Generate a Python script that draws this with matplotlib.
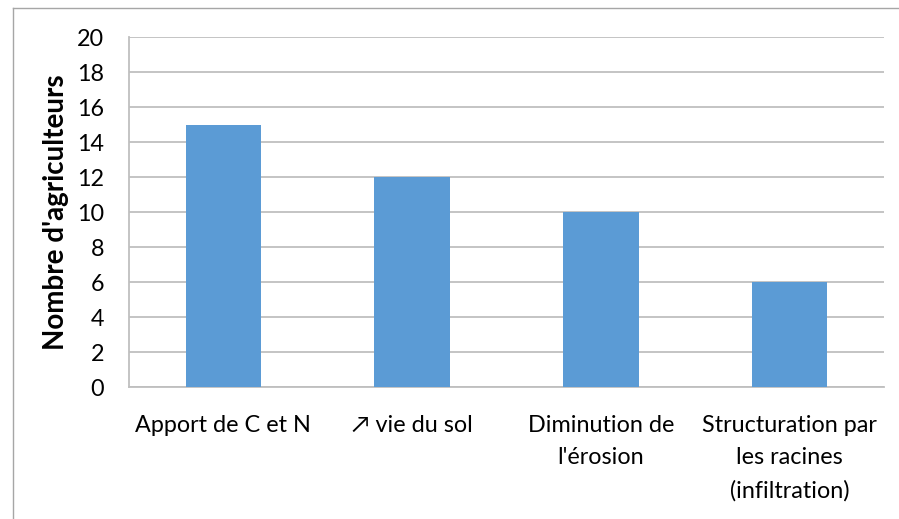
import matplotlib.pyplot as plt
from matplotlib.lines import Line2D

categories = [
    "Apport de C et N",
    "\u2197 vie du sol",
    "Diminution de\nl'érosion",
    "Structuration par\nles racines\n(infiltration)",
]
counts = [15, 12, 10, 6]
yticks = [0, 2, 4, 6, 8, 10, 12, 14, 16, 18, 20]

plt.rcParams["font.family"] = ["Lato", "DejaVu Sans"]

fig = plt.figure(figsize=(8.99, 5.19), dpi=100)
ax = fig.add_axes([0.1435, 0.2543, 0.8398, 0.6744])

ax.bar(range(len(categories)), counts, width=0.4, color="#5b9bd5", zorder=3)

ax.set_xlim(-0.5, len(categories) - 0.5)
ax.set_ylim(0, 20)
ax.set_yticks(yticks)
ax.yaxis.grid(True, color="#bfbfbf", linewidth=1.3, zorder=0)
ax.set_xticks(range(len(categories)))
ax.set_xticklabels(categories, fontsize=16.8, linespacing=1.68, va="top")
ax.tick_params(axis="y", labelsize=16.8, length=0, pad=18)
ax.tick_params(axis="x", length=0, pad=20)

for side in ["top", "right"]:
    ax.spines[side].set_visible(False)
for side in ["left", "bottom"]:
    ax.spines[side].set_color("#bfbfbf")
    ax.spines[side].set_linewidth(1.3)

ax.set_ylabel("Nombre d'agriculteurs", fontsize=20, fontweight="bold", labelpad=6)

# cropped outer frame (top and left only)
fig.add_artist(Line2D([13 / 899, 1], [1 - 8 / 519, 1 - 8 / 519], color="#a6a6a6", linewidth=1))
fig.add_artist(Line2D([13 / 899, 13 / 899], [0, 1 - 8 / 519], color="#a6a6a6", linewidth=1))

fig.savefig("out.png", dpi=100)
